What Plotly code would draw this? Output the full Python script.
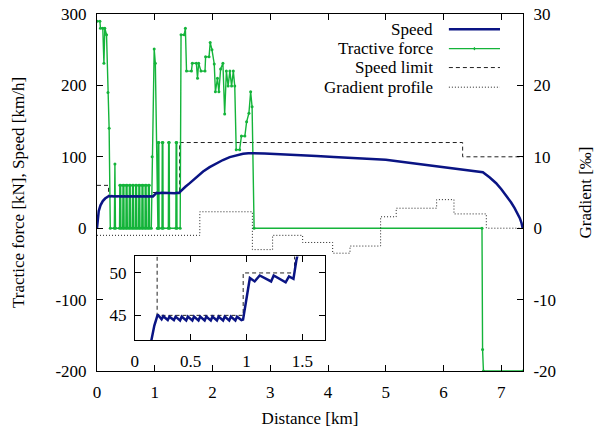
import plotly.graph_objects as go

# ---------------- data ----------------
speed_km = [0, 0.01, 0.03, 0.06, 0.10, 0.14, 0.175, 0.205,
            0.24, 0.255, 0.295, 0.31, 0.35, 0.365, 0.405, 0.42, 0.46, 0.475,
            0.515, 0.53, 0.57, 0.585, 0.625, 0.64, 0.68, 0.695, 0.735, 0.75,
            0.79, 0.805, 0.845, 0.86, 0.90, 0.915, 0.955, 0.969,
            1.03, 1.073, 1.118, 1.22, 1.243, 1.35, 1.38, 1.42, 1.446, 1.46,
            1.53, 1.606, 1.72, 1.837, 1.95, 2.068, 2.18, 2.298, 2.41, 2.529,
            2.62, 2.69, 2.9, 3.16, 3.45, 3.8, 4.1, 4.4, 4.7, 5.0, 5.4, 5.76,
            6.1, 6.4, 6.68, 6.8, 6.91, 7.0, 7.09, 7.17, 7.23, 7.28, 7.32,
            7.35, 7.37]
speed_kmh = [0, 12, 24, 32, 38, 41.5, 43.8, 45.1,
             44.55, 44.9, 44.45, 44.85, 44.45, 44.85, 44.4, 44.85, 44.4, 44.85,
             44.4, 44.85, 44.4, 44.85, 44.4, 44.85, 44.4, 44.85, 44.4, 44.85,
             44.4, 44.85, 44.4, 44.85, 44.4, 44.85, 44.45, 44.5,
             49.4, 49.0, 49.7, 49.0, 49.7, 48.9, 49.6, 49.3, 51.5, 52.7,
             58, 63.1, 71.5, 79.3, 85.5, 91.1, 95.5, 99.5, 102.3, 104.2,
             104.9, 105.1, 104.6, 103.8, 102.7, 101.2, 99.8, 98.2, 97.0, 95.7,
             91.6, 88.0, 84.5, 81.5, 78.5, 71, 63, 54.5, 45, 36, 28, 21, 14,
             7, 0]

force_km = [0, 0.05, 0.06, 0.10, 0.12, 0.135, 0.165, 0.19, 0.21, 0.23,
            0.30, 0.31, 0.32, 0.39,
            0.395, 0.41, 0.415, 0.445,
            0.45, 0.465, 0.47, 0.50,
            0.505, 0.52, 0.525, 0.555,
            0.56, 0.575, 0.58, 0.61,
            0.615, 0.63, 0.635, 0.665,
            0.67, 0.685, 0.69, 0.72,
            0.725, 0.74, 0.745, 0.775,
            0.78, 0.795, 0.80, 0.83,
            0.835, 0.85, 0.855, 0.885,
            0.89, 0.905, 0.91, 0.94,
            0.955, 0.99, 1.01, 1.045, 1.055,
            1.06, 1.07, 1.075, 1.125,
            1.13, 1.14, 1.145, 1.235,
            1.24, 1.25, 1.255, 1.365,
            1.37, 1.38, 1.385, 1.44,
            1.455, 1.51, 1.53, 1.55, 1.635, 1.65, 1.72, 1.74, 1.76, 1.80,
            1.87, 1.88, 1.94, 1.96, 1.99, 2.03, 2.05, 2.085, 2.11, 2.14,
            2.18, 2.21, 2.24, 2.27, 2.30, 2.33, 2.36, 2.385, 2.41, 2.47,
            2.50, 2.56, 2.59, 2.63, 2.66, 2.685, 2.72,
            6.665, 6.675, 6.69, 7.375]
force_kn = [290, 290, 280, 280, 231, 280, 271, 190, 140, 0,
            0, 90, 0, 0,
            60, 60, 0, 0,
            60, 60, 0, 0,
            60, 60, 0, 0,
            60, 60, 0, 0,
            60, 60, 0, 0,
            60, 60, 0, 0,
            60, 60, 0, 0,
            60, 60, 0, 0,
            60, 60, 0, 0,
            60, 60, 0, 0,
            100, 251, 231, 0, 0,
            120, 120, 0, 0,
            120, 120, 0, 0,
            120, 120, 0, 0,
            120, 120, 0, 0,
            271, 271, 280, 220, 220, 231, 231, 210, 231, 220,
            220, 240, 240, 260, 250, 230, 191, 210, 191, 223,
            231, 160, 220, 199, 220, 199, 220, 199, 110, 110,
            129, 129, 149, 161, 191, 170, 0,
            0, -170, -200, -200]

limit_km = [0, 0.2, 0.97, 1.43, 6.33, 7.375]
limit_kmh = [60, 45, 50, 120, 100, 100]

grad_km = [0, 1.78, 2.69, 3.04, 3.56, 4.08, 4.38, 4.91, 5.18, 5.88, 6.18,
           6.74, 7.375]
grad_permille = [-1, 2.3, -3, -1, -2, -3.5, -2.5, 1.6, 2.8, 4, 2, 0, 0]

x_ticks = [0, 1, 2, 3, 4, 5, 6, 7]
y_ticks = [-200, -100, 0, 100, 200, 300]
y_ticktext = ["-200", "-100", "0", "100", "200", "300"]
y2_ticks = [-20, -10, 0, 10, 20, 30]
y2_ticktext = ["-20", "-10", "0", "10", "20", "30"]
inset_x_ticks = [0, 0.5, 1, 1.5]
inset_x_ticktext = ["0", "0.5", "1", "1.5"]
inset_y_ticks = [45, 50]

legend_labels = ["Speed", "Tractive force", "Speed limit", "Gradient profile"]

# ---------------- style ----------------
FONT = "Liberation Serif"
FS = 17
NAVY = "#0a1484"
GREEN = "#14b43a"
DARK = "#222222"

fig = go.Figure()
fig.add_trace(go.Scatter(x=grad_km, y=grad_permille, yaxis="y2", mode="lines",
                         line=dict(color=DARK, width=1, dash="1px,2px", shape="hv"),
                         name=legend_labels[3]))
fig.add_trace(go.Scatter(x=limit_km, y=limit_kmh, mode="lines",
                         line=dict(color=DARK, width=1, dash="4px,3px", shape="hv"),
                         name=legend_labels[2]))
fig.add_trace(go.Scatter(x=force_km, y=force_kn, mode="lines+markers",
                         line=dict(color=GREEN, width=1.4),
                         marker=dict(color=GREEN, size=3),
                         name=legend_labels[1]))
fig.add_trace(go.Scatter(x=speed_km, y=speed_kmh, mode="lines",
                         line=dict(color=NAVY, width=2.5),
                         name=legend_labels[0]))
# inset
fig.add_trace(go.Scatter(x=limit_km, y=limit_kmh, xaxis="x3", yaxis="y3", mode="lines",
                         line=dict(color=DARK, width=1, dash="4px,3px", shape="hv"),
                         showlegend=False))
fig.add_trace(go.Scatter(x=speed_km, y=speed_kmh, xaxis="x3", yaxis="y3", mode="lines",
                         line=dict(color=NAVY, width=2.5), showlegend=False))

axis_common = dict(showline=True, linecolor="black", linewidth=1, ticks="inside",
                   ticklen=6, tickcolor="black", showgrid=False, zeroline=False,
                   automargin=False, ticklabeloverflow="allow",
                   tickfont=dict(family=FONT, size=FS, color="black"))

fig.update_layout(
    width=601, height=428,
    margin=dict(l=97, r=78, t=14, b=57),
    paper_bgcolor="white", plot_bgcolor="white",
    showlegend=False,
    font=dict(family=FONT, size=FS, color="black"),
    xaxis=dict(range=[0, 7.375], tickvals=x_ticks, mirror="ticks", anchor="y",
               ticklabelstandoff=6,
               title=dict(text="Distance [km]", standoff=12,
                          font=dict(family=FONT, size=FS)),
               **axis_common),
    yaxis=dict(range=[-200, 300], tickvals=y_ticks, ticktext=y_ticktext,
               ticklabelstandoff=6,
               title=dict(text="Tractice force [kN], Speed [km/h]", standoff=26,
                          font=dict(family=FONT, size=FS)),
               **axis_common),
    yaxis2=dict(range=[-20, 30], tickvals=y2_ticks, ticktext=y2_ticktext,
                overlaying="y", side="right", anchor="x", ticklabelstandoff=6,
                title=dict(text="Gradient [‰]", standoff=24,
                           font=dict(family=FONT, size=FS)),
                **axis_common),
    xaxis3=dict(domain=[0.0887, 0.5346], anchor="y3", range=[0, 1.7],
                tickvals=inset_x_ticks, ticktext=inset_x_ticktext, mirror="ticks",
                ticklabelstandoff=6, **axis_common),
    yaxis3=dict(domain=[0.0869, 0.3210], anchor="x3", range=[42.1, 51.95],
                tickvals=inset_y_ticks, mirror="ticks", ticklabelstandoff=4,
                **axis_common),
)

# custom legend (text right-aligned, sample to the right, as in the reference)
row_y = [0.957, 0.903, 0.850, 0.795]
row_styles = [dict(color=NAVY, width=2.5), dict(color=GREEN, width=1.4),
              dict(color=DARK, width=1, dash="4px,3px"),
              dict(color=DARK, width=1, dash="1px,2px")]
for label, yy, st in zip(legend_labels, row_y, row_styles):
    fig.add_annotation(x=0.7944, y=yy, xref="paper", yref="paper", text=label,
                       showarrow=False, xanchor="right", yanchor="middle",
                       font=dict(family=FONT, size=FS, color="black"))
    fig.add_shape(type="line", xref="paper", yref="paper", x0=0.826, x1=0.946,
                  y0=yy, y1=yy, line=st)
fig.add_shape(type="circle", xref="paper", yref="paper", x0=0.884, x1=0.888,
              y0=row_y[1] - 0.0045, y1=row_y[1] + 0.0045,
              line=dict(color=GREEN, width=0), fillcolor=GREEN)

# remove the default 8px page margin so the 601x428 figure fills the window
fig.write_html("out.html", config={"displayModeBar": False},
               post_script="document.body.style.margin='0px';")
